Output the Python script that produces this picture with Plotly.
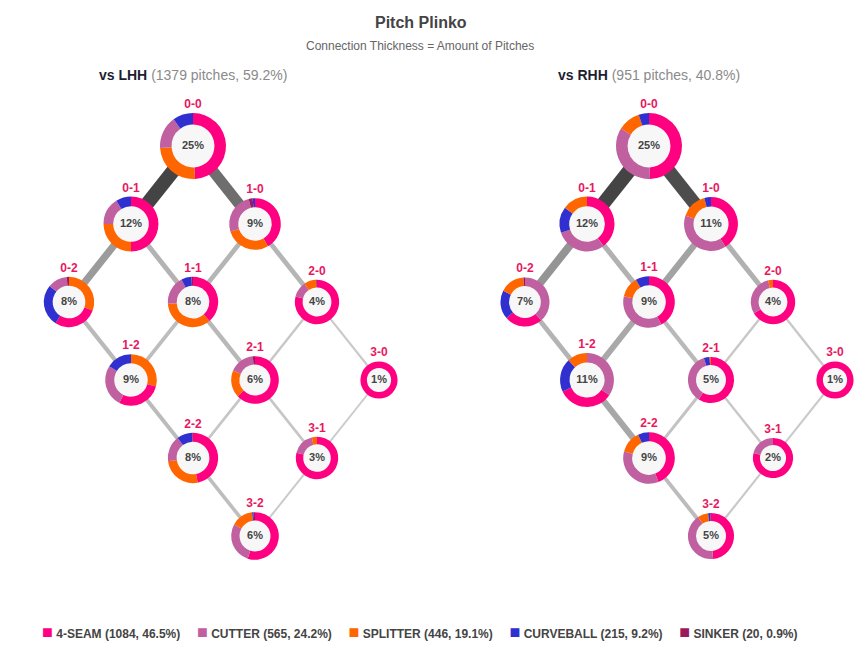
import plotly.graph_objects as go

# page pixels of the reference; the html body adds an 8px margin
W, H = 868, 662
PAD = 8
FW, FH = W - 2 * PAD, H - 2 * PAD

# count states, balls-strikes
counts = ["0-0", "0-1", "1-0", "0-2", "1-1", "2-0", "1-2", "2-1", "3-0", "2-2", "3-1", "3-2"]

pitch_types = ["4-SEAM", "CUTTER", "SPLITTER", "CURVEBALL", "SINKER"]
pitch_totals = [1084, 565, 446, 215, 20]
pitch_colors = ["#ff0080", "#c060a0", "#ff6600", "#3030d0", "#9b1a5e"]

lhh_pitches = 1379
rhh_pitches = 951

# share of the side's pitches thrown in each count (%)
lhh_pct = [25, 12, 9, 8, 8, 4, 9, 6, 1, 8, 3, 6]
rhh_pct = [25, 12, 11, 7, 9, 4, 11, 5, 1, 9, 2, 5]

# pitch mix in each count (%), one list per pitch type
lhh_fourseam = [49, 50, 42, 28.5, 38.5, 79, 28.5, 63, 100, 47, 79, 55]
lhh_cutter = [16, 16, 26, 12.5, 18.5, 11.4, 26.5, 17, 0, 16.5, 17, 28]
lhh_splitter = [25, 25, 29, 30.5, 35, 9, 29, 18.5, 0, 26, 4, 15]
lhh_curve = [10, 9, 1.5, 27, 6.5, 0, 16, 0, 0, 10, 0, 1]
lhh_sinker = [0, 0, 2.5, 1.5, 1, 0.6, 0, 1.5, 0, 0.5, 0, 1]

rhh_fourseam = [49, 39.5, 41, 25, 42, 66.5, 33.5, 59, 100, 44, 79, 48.5]
rhh_cutter = [34, 30, 39, 38.6, 36.5, 30, 34.5, 36, 0, 35, 21, 42]
rhh_splitter = [11, 14.8, 16, 16.4, 13, 3.5, 12, 1, 0, 14, 0, 7.5]
rhh_curve = [5, 15.2, 4, 19, 8.5, 0, 20, 4, 0, 7, 0, 1.5]
rhh_sinker = [0, 0, 0, 1, 0, 0, 0, 0, 0, 0, 0, 0.5]

# count-to-count connections and the pitches flowing along them
edge_from = ["0-0", "0-0", "0-1", "0-1", "1-0", "1-0", "0-2", "1-1", "1-1",
             "2-0", "2-0", "1-2", "2-1", "2-1", "3-0", "2-2", "3-1"]
edge_to = ["0-1", "1-0", "0-2", "1-1", "1-1", "2-0", "1-2", "1-2", "2-1",
           "2-1", "3-0", "2-2", "2-2", "3-1", "3-1", "3-2", "3-2"]
lhh_edge_pitches = [165, 124, 75, 45, 42, 42, 35, 30, 38, 12, 8, 33, 15, 15, 5, 28, 6]
rhh_edge_pitches = [114, 108, 58, 33, 45, 33, 30, 40, 25, 8, 7, 42, 14, 8, 5, 22, 6]

FONT = "Liberation Sans, Arial, sans-serif"
X_STEP, Y_STEP, Y_TOP = 62, 78, 146


def node_xy(count, x0):
    b, s = [int(v) for v in count.split("-")]
    return x0 + (b - s) * X_STEP, Y_TOP + (b + s) * Y_STEP


def node_r(p):
    return 15 + 3.6 * p ** 0.5


def trim(xa, ya, xb, yb, ra, rb, w):
    # stop the connection where it meets each donut's edge
    dx, dy = xb - xa, yb - ya
    d = (dx * dx + dy * dy) ** 0.5
    ka = max(ra * ra - (w / 2) ** 2, 0) ** 0.5 - 1
    kb = max(rb * rb - (w / 2) ** 2, 0) ** 0.5 - 1
    return (xa + dx * ka / d, ya + dy * ka / d, xb - dx * kb / d, yb - dy * kb / d)


fig = go.Figure()

panels = [
    ("LHH", 193, lhh_pitches, lhh_pct,
     [lhh_fourseam, lhh_cutter, lhh_splitter, lhh_curve, lhh_sinker], lhh_edge_pitches),
    ("RHH", 649, rhh_pitches, rhh_pct,
     [rhh_fourseam, rhh_cutter, rhh_splitter, rhh_curve, rhh_sinker], rhh_edge_pitches),
]

total = lhh_pitches + rhh_pitches

for side, x0, n, pct, mix, edges in panels:
    rad = {c: node_r(p) for c, p in zip(counts, pct)}
    top = max(edges)
    # connections
    for a, b, c in zip(edge_from, edge_to, edges):
        ratio = c / top
        g = int(round(204 - 136 * ratio ** 1.3))
        w = 1.5 + 12.5 * ratio
        xa, ya = node_xy(a, x0)
        xb, yb = node_xy(b, x0)
        x1, y1, x2, y2 = trim(xa, ya, xb, yb, rad[a], rad[b], w)
        fig.add_trace(go.Scatter(
            x=[x1, x2], y=[y1, y2], mode="lines",
            line=dict(width=w, color=f"rgb({g},{g},{g})"),
            hoverinfo="skip", showlegend=False))

    xs, ys, rs = [], [], []
    for c in counts:
        x, y = node_xy(c, x0)
        xs.append(x)
        ys.append(y)
        rs.append(rad[c])

    # light centre discs + percentage labels
    fig.add_trace(go.Scatter(
        x=xs, y=ys, mode="markers+text",
        marker=dict(size=[2 * r - 2 for r in rs], color="#f4f4f4", line=dict(width=0)),
        text=[f"{p}%" for p in pct], textposition="middle center",
        textfont=dict(family=FONT, size=11, color="#444444", weight="bold"),
        hoverinfo="skip", showlegend=False))

    # count labels above nodes
    fig.add_trace(go.Scatter(
        x=xs, y=[y - r - 8 for y, r in zip(ys, rs)], mode="text",
        text=counts, textposition="middle center",
        textfont=dict(family=FONT, size=12, color="#e8185f", weight="bold"),
        hoverinfo="skip", showlegend=False))

    # donuts
    for i, c in enumerate(counts):
        x, y, r = xs[i], ys[i], rs[i]
        vals = [m[i] for m in mix]
        fig.add_trace(go.Pie(
            labels=pitch_types, values=vals,
            marker=dict(colors=pitch_colors, line=dict(width=0)),
            hole=0.65, sort=True, direction="clockwise",
            textinfo="none", hoverinfo="label+percent", showlegend=False,
            domain=dict(x=[(x - r - PAD) / FW, (x + r - PAD) / FW],
                        y=[1 - (y + r - PAD) / FH, 1 - (y - r - PAD) / FH])))

    fig.add_annotation(
        x=x0, y=75, xref="x", yref="y", showarrow=False,
        text=f"<b>vs {side}</b> <span style='color:#8a8a8a'>({n} pitches, {n / total * 100:.1f}%)</span>",
        font=dict(family=FONT, size=14, color="#1e1e30"))

# legend row as one line of text with coloured squares
grand = sum(pitch_totals)
items = []
for name, cnt, col in zip(pitch_types, pitch_totals, pitch_colors):
    items.append(f"<span style='color:{col};font-size:18px'>■</span> "
                 f"{name} ({cnt}, {cnt / grand * 100:.1f}%)")
fig.add_annotation(x=420, y=632, xref="x", yref="y", showarrow=False,
                   text="&nbsp;&nbsp;&nbsp;&nbsp;&nbsp;".join(items),
                   font=dict(family=FONT, size=12, color="#444444", weight="bold"))

fig.add_annotation(x=421, y=22, xref="x", yref="y", showarrow=False,
                   text="<b>Pitch Plinko</b>", font=dict(family=FONT, size=16, color="#444444"))
fig.add_annotation(x=420, y=46, xref="x", yref="y", showarrow=False,
                   text="Connection Thickness = Amount of Pitches",
                   font=dict(family=FONT, size=12, color="#666666"))

fig.update_layout(
    width=FW, height=FH,
    margin=dict(l=0, r=0, t=0, b=0),
    paper_bgcolor="white", plot_bgcolor="white",
    showlegend=False,
    xaxis=dict(range=[PAD, PAD + FW], visible=False, fixedrange=True, domain=[0, 1]),
    yaxis=dict(range=[PAD + FH, PAD], visible=False, fixedrange=True, domain=[0, 1]),
)

fig.write_html("out.html")
